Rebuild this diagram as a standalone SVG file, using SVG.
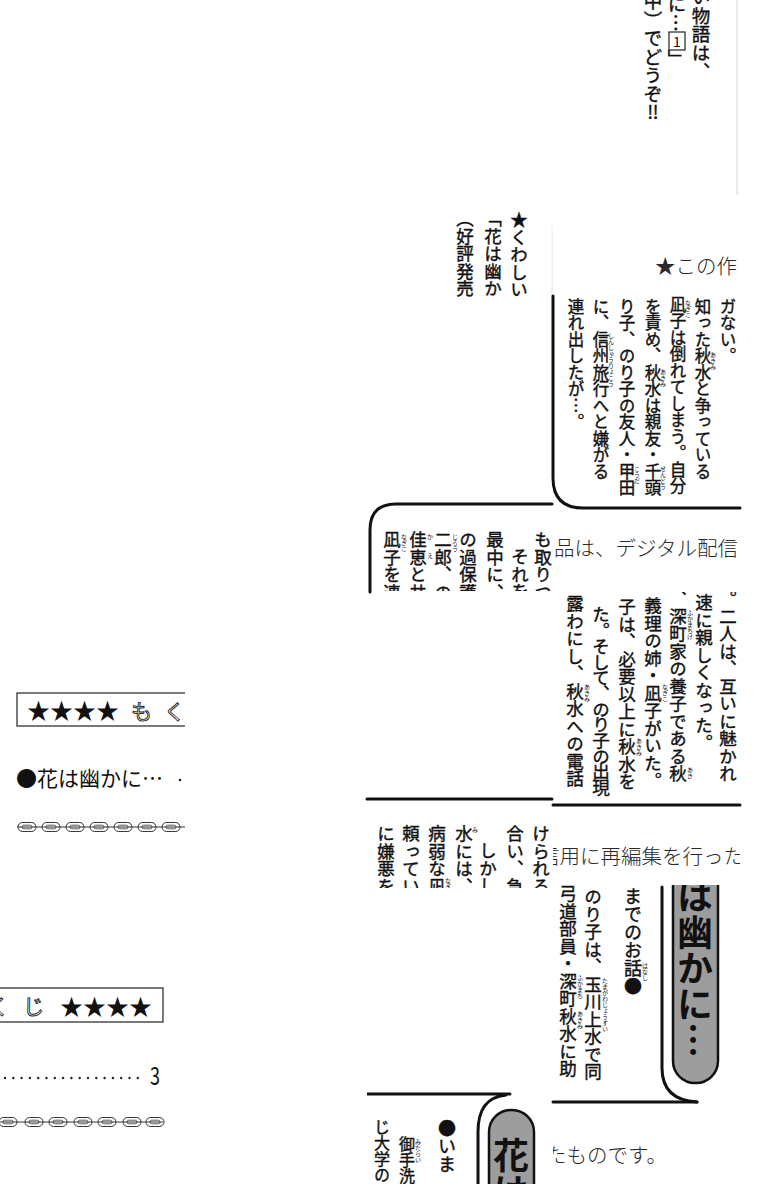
<svg xmlns="http://www.w3.org/2000/svg" width="760" height="1200" viewBox="0 0 760 1200">
<style>
text{font-family:"Noto Sans CJK JP","Noto Sans CJK SC",sans-serif;fill:#111}
.v{writing-mode:vertical-rl;stroke:#111;stroke-width:0.4}
.t18{font-size:18.5px}
.t17{font-size:17.5px}
.t16{font-size:16.5px}
.rb{font-size:6px;writing-mode:vertical-rl}
.m{font-weight:300;fill:#2a2a2a;font-size:20.5px}
.ln{fill:none;stroke:#111;stroke-width:3;stroke-linecap:round}
.pill{fill:#9d9d9d;stroke:#111;stroke-width:2.5}
.big{font-size:36px;font-weight:700;writing-mode:vertical-rl}
.ol{fill:#fff;stroke:#222;stroke-width:0.9;font-size:21px}
.box{fill:none;stroke:#333;stroke-width:1.3}
.ch{fill:#fff;stroke:#333;stroke-width:1}
.chi{fill:none;stroke:#333;stroke-width:0.8}
</style>
<defs>
<clipPath id="cTop"><rect x="540" y="0" width="200" height="200"/></clipPath>
<clipPath id="cB"><rect x="440" y="200" width="105" height="97"/></clipPath>
<clipPath id="cD"><rect x="556" y="296" width="184" height="210"/></clipPath>
<clipPath id="cE1"><rect x="372" y="515" width="180" height="76"/></clipPath>
<clipPath id="cH1"><rect x="553" y="520" width="187" height="60"/></clipPath>
<clipPath id="cE2"><rect x="553" y="592" width="187" height="205"/></clipPath>
<clipPath id="cF1"><rect x="367" y="810" width="185" height="78"/></clipPath>
<clipPath id="cF2"><rect x="553" y="830" width="187" height="50"/></clipPath>
<clipPath id="cF3"><rect x="553" y="885" width="187" height="220"/></clipPath>
<clipPath id="cF4"><rect x="553" y="1130" width="187" height="55"/></clipPath>
<clipPath id="cF5"><rect x="367" y="1085" width="185" height="99"/></clipPath>
<clipPath id="cL1"><rect x="0" y="680" width="185" height="160"/></clipPath>
<clipPath id="cL2"><rect x="0" y="980" width="165" height="155"/></clipPath>
<g id="lk"><rect class="ch" x="-9" y="-4.5" width="18" height="9" rx="4.5"/><rect class="chi" x="-5" y="-1.8" width="10" height="3.6" rx="1.8"/></g>
</defs>
<rect width="760" height="1200" fill="#fff"/>

<g id="top-right" clip-path="url(#cTop)">
<line x1="737" y1="0" x2="737" y2="195" stroke="#e2e2e2" stroke-width="1.5"/>
<text class="v t18" x="701" y="-12">い物語は、</text>
<text class="v t18" x="677" y="-5">に…</text>
<rect x="669" y="32" width="16" height="18" fill="none" stroke="#222" stroke-width="1.2"/>
<text x="677" y="47" font-size="14" text-anchor="middle">1</text>
<text class="v t18" x="677" y="50">」</text>
<text class="v t18" x="653" y="-8">中）でどうぞ‼</text>
</g>

<g id="kuwashii" clip-path="url(#cB)">
<text class="v t17" x="519" y="211">★くわしい</text>
<text class="v t17" x="493" y="210">「花は幽かに</text>
<text class="v t17" x="465" y="210">（好評発売中</text>
</g>

<g id="sakuhin">
<line x1="552" y1="225" x2="552" y2="296" stroke="#e8e8e8" stroke-width="1"/>
<text class="m" x="655" y="274">★この作</text>
</g>

<g id="box-right">
<path class="ln" d="M553,296 V478 Q553,508 583,508 H740"/>
<g clip-path="url(#cD)">
<text class="v t16" x="728" y="298">ガない。</text>
<text class="v t16" x="703" y="298">知った秋水と争っている</text>
<text class="rb" x="713" y="352">あきみ</text>
<text class="v t16" x="678" y="296">凪子は倒れてしまう。自分</text>
<text class="rb" x="688" y="300">なぎこ</text>
<text class="v t16" x="653" y="298">を責め、秋水は親友・千頭</text>
<text class="rb" x="663" y="369">あきみ</text>
<text class="rb" x="663" y="466">せんとう</text>
<text class="v t16" x="627" y="298">り子、のり子の友人・甲田</text>
<text class="rb" x="637" y="466">こうだ</text>
<text class="v t16" x="601" y="298">に、信州旅行へと嫌がる</text>
<text class="rb" x="611" y="333">しんしゅうりょこう</text>
<text class="v t16" x="576" y="298">連れ出したが…。</text>
</g>
</g>

<g id="panel-left-1">
<path class="ln" d="M370,592 V530 Q370,504 396,504 H552"/>
<g clip-path="url(#cE1)">
<text class="v t17" x="543" y="531">も取りつ</text>
<text class="v t17" x="520" y="548">それを</text>
<text class="v t17" x="495" y="531">最中に、</text>
<text class="v t17" x="468" y="531">の過保護</text>
<text class="v t17" x="443" y="531">二郎、の</text>
<text class="rb" x="455" y="534">じろう</text>
<text class="v t17" x="418" y="531">佳恵と共</text>
<text class="rb" x="430" y="534">か</text>
<text class="rb" x="430" y="553">え</text>
<text class="v t17" x="392" y="531">凪子を連</text>
<text class="rb" x="404" y="534">なぎこ</text>
</g>
<line class="ln" x1="367" y1="799" x2="552" y2="799"/>
</g>

<g id="digital-1" clip-path="url(#cH1)">
<text class="m" x="554" y="556">品は、デジタル配信</text>
</g>

<g id="panel-right-2">
<g clip-path="url(#cE2)">
<text class="v t17" x="728" y="590">。二人は、互いに魅かれ</text>
<text class="v t17" x="704" y="594">速に親しくなった。</text>
<text class="v t17" x="678" y="590">、深町家の養子である秋</text>
<text class="rb" x="690" y="610">ふかまちけ</text>
<text class="rb" x="690" y="767">あき</text>
<text class="v t17" x="653" y="597">義理の姉・凪子がいた。</text>
<text class="rb" x="665" y="684">なぎこ</text>
<text class="v t17" x="627" y="598">子は、必要以上に秋水を</text>
<text class="rb" x="639" y="738">あきみ</text>
<text class="v t17" x="601" y="606" letter-spacing="-1.8">た。そして、のり子の出現</text>
<text class="v t17" x="575" y="595">露わにし、秋水への電話</text>
<text class="rb" x="587" y="684">あきみ</text>
</g>
<line class="ln" x1="553" y1="805" x2="740" y2="805"/>
</g>

<g id="panel-left-2" clip-path="url(#cF1)">
<text class="v t17" x="541" y="825">けられる</text>
<text class="v t17" x="515" y="825">合い、急</text>
<text class="v t17" x="488" y="842">しかし</text>
<text class="v t17" x="464" y="825">水には、</text>
<text class="rb" x="475" y="827">み</text>
<text class="v t17" x="437" y="825">病弱な凪</text>
<text class="rb" x="448" y="878">なぎ</text>
<text class="v t17" x="411" y="825">頼ってい</text>
<text class="v t17" x="386" y="825">に嫌悪を</text>
</g>

<g id="digital-2" clip-path="url(#cF2)">
<text class="m" x="539" y="864">信用に再編集を行った</text>
</g>

<g id="imamade">
<g clip-path="url(#cF3)">
<rect class="pill" x="673" y="850" width="45" height="233" rx="22"/>
<text class="big" x="695" y="878">は幽かに…</text>
<text class="v" font-size="18" x="633" y="887">までのお話●</text>
<text class="rb" x="645" y="963">はなし</text>
<text class="v" font-size="17.5" x="593" y="888">のり子は、玉川上水で同</text>
<text class="rb" x="605" y="978">たまがわじょうすい</text>
<text class="v" font-size="17.5" x="568" y="885">弓道部員・深町秋水に助</text>
<text class="rb" x="580" y="975">ふかまち</text>
<text class="rb" x="580" y="1011">あきみ</text>
</g>
<path class="ln" d="M662,887 V1068 Q662,1100 697,1102"/>
<line class="ln" x1="553" y1="1102" x2="697" y2="1102"/>
</g>

<g id="digital-3" clip-path="url(#cF4)">
<text class="m" x="546" y="1163">たものです。</text>
</g>

<g id="imamade-2" clip-path="url(#cF5)">
<path class="ln" d="M367,1094 H510 M506,1095 C486,1097 478,1110 478,1132 V1190"/>
<rect class="pill" x="489" y="1110" width="45" height="120" rx="22"/>
<text class="big" x="511" y="1137">花は</text>
<text class="v" font-size="18" x="447" y="1119">●いま</text>
<text class="v" font-size="16" x="407" y="1136">御手洗</text>
<text class="rb" x="418" y="1139">みたらい</text>
<text class="v" font-size="16" x="382" y="1119">じ大学の</text>
</g>

<g id="mokuji-1" clip-path="url(#cL1)">
<rect class="box" x="17" y="693" width="200" height="33"/>
<text x="27" y="719" font-size="23">★★★★</text>
<text class="ol" x="131" y="719">も</text>
<text class="ol" x="164" y="719">く</text>
<text x="16" y="786" font-size="21">●花は幽かに…</text>
<circle cx="180" cy="780" r="1.3" fill="#222"/>
<g id="chain-1">
<use href="#lk" x="27" y="827"/><use href="#lk" x="51" y="827"/><use href="#lk" x="75" y="827"/><use href="#lk" x="99" y="827"/><use href="#lk" x="123" y="827"/><use href="#lk" x="147" y="827"/><use href="#lk" x="171" y="827"/>
<line x1="17" y1="827" x2="185" y2="827" stroke="#333" stroke-width="1"/>
</g>
</g>

<g id="mokuji-2" clip-path="url(#cL2)">
<rect class="box" x="-10" y="988" width="173" height="34"/>
<text class="ol" x="-12" y="1014">く</text>
<text class="ol" x="23" y="1014">じ</text>
<text x="60" y="1015" font-size="23">★★★★</text>
<line x1="5" y1="1078" x2="146" y2="1078" stroke="#222" stroke-width="2.4" stroke-linecap="round" stroke-dasharray="0 8.3"/>
<text x="0" y="0" font-size="25" font-family="Liberation Sans, sans-serif" transform="translate(150,1085) scale(0.72,1)">3</text>
<g id="chain-2">
<use href="#lk" x="8" y="1122"/><use href="#lk" x="34" y="1122"/><use href="#lk" x="58" y="1122"/><use href="#lk" x="83" y="1122"/><use href="#lk" x="107" y="1122"/><use href="#lk" x="132" y="1122"/><use href="#lk" x="155" y="1122"/>
<line x1="0" y1="1122" x2="163" y2="1122" stroke="#333" stroke-width="1"/>
</g>
</g>
</svg>
